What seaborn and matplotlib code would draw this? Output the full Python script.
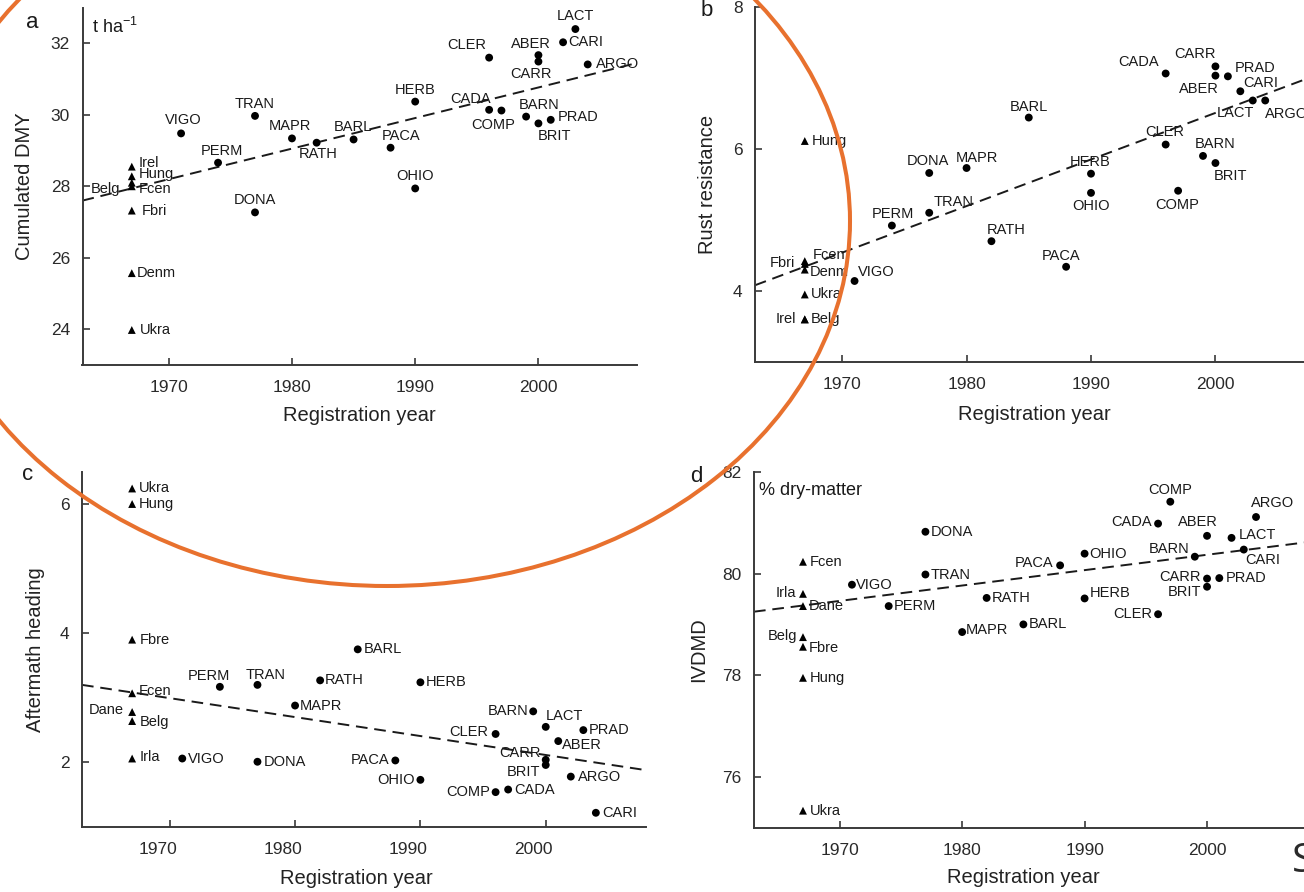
import pandas as pd
import matplotlib
matplotlib.use("Agg")
import matplotlib.pyplot as plt
import matplotlib.transforms as mtransforms
from matplotlib.patches import Ellipse
import seaborn as sns

# ---- Data ----
LANDRACE_YEAR = 1967
TREND_YEARS = [1963, 2008]

# a: cumulated DMY
a_land_names = ["Irel", "Hung", "Fcen", "Belg", "Fbri", "Denm", "Ukra"]
a_land_values = [28.55, 28.28, 28.10, 28.00, 27.32, 25.57, 23.98]
a_var_names = ["VIGO", "PERM", "TRAN", "DONA", "MAPR", "RATH", "BARL", "PACA", "HERB", "OHIO",
               "CLER", "CADA", "COMP", "BARN", "ABER", "CARR", "BRIT", "PRAD", "CARI", "LACT", "ARGO"]
a_var_years = [1971, 1974, 1977, 1977, 1980, 1982, 1985, 1988, 1990, 1990,
               1996, 1996, 1997, 1999, 2000, 2000, 2000, 2001, 2002, 2003, 2004]
a_var_values = [29.48, 28.66, 29.97, 27.27, 29.34, 29.22, 29.31, 29.08, 30.37, 27.94,
                31.60, 30.14, 30.12, 29.95, 31.67, 31.49, 29.76, 29.86, 32.03, 32.40, 31.41]
a_trend = [27.6, 31.45]

# b: rust resistance
b_land_names = ["Hung", "Fcen", "Fbri", "Denm", "Ukra", "Belg", "Irel"]
b_land_values = [6.11, 4.42, 4.38, 4.30, 3.95, 3.60, 3.60]
b_var_names = ["VIGO", "PERM", "TRAN", "DONA", "MAPR", "RATH", "BARL", "PACA", "HERB", "OHIO",
               "CLER", "CADA", "COMP", "BARN", "CARR", "ABER", "BRIT", "PRAD", "CARI", "LACT", "ARGO"]
b_var_years = [1971, 1974, 1977, 1977, 1980, 1982, 1985, 1988, 1990, 1990,
               1996, 1996, 1997, 1999, 2000, 2000, 2000, 2001, 2002, 2003, 2004]
b_var_values = [4.14, 4.92, 5.10, 5.66, 5.73, 4.70, 6.44, 4.34, 5.65, 5.38,
                6.06, 7.06, 5.41, 5.90, 7.16, 7.03, 5.80, 7.02, 6.81, 6.68, 6.68]
b_trend = [4.08, 7.03]

# c: aftermath heading
c_land_names = ["Ukra", "Hung", "Fbre", "Fcen", "Dane", "Belg", "Irla"]
c_land_values = [6.24, 6.00, 3.90, 3.07, 2.78, 2.64, 2.06]
c_var_names = ["VIGO", "PERM", "TRAN", "DONA", "MAPR", "RATH", "BARL", "PACA", "HERB", "OHIO",
               "CLER", "COMP", "CADA", "BARN", "LACT", "CARR", "BRIT", "ABER", "ARGO", "PRAD", "CARI"]
c_var_years = [1971, 1974, 1977, 1977, 1980, 1982, 1985, 1988, 1990, 1990,
               1996, 1996, 1997, 1999, 2000, 2000, 2000, 2001, 2002, 2003, 2004]
c_var_values = [2.06, 3.17, 3.20, 2.01, 2.88, 3.27, 3.75, 2.03, 3.24, 1.73,
                2.44, 1.54, 1.58, 2.79, 2.55, 2.04, 1.96, 2.33, 1.78, 2.50, 1.22]
c_trend = [3.2, 1.88]

# d: IVDMD
d_land_names = ["Fcen", "Irla", "Dane", "Belg", "Fbre", "Hung", "Ukra"]
d_land_values = [80.23, 79.60, 79.36, 78.75, 78.56, 77.95, 75.34]
d_var_names = ["VIGO", "PERM", "DONA", "TRAN", "MAPR", "RATH", "BARL", "PACA", "OHIO", "HERB",
               "CLER", "CADA", "COMP", "BARN", "ABER", "CARR", "BRIT", "PRAD", "LACT", "CARI", "ARGO"]
d_var_years = [1971, 1974, 1977, 1977, 1980, 1982, 1985, 1988, 1990, 1990,
               1996, 1996, 1997, 1999, 2000, 2000, 2000, 2001, 2002, 2003, 2004]
d_var_values = [79.78, 79.36, 80.82, 79.98, 78.85, 79.52, 79.00, 80.16, 80.39, 79.51,
                79.20, 80.98, 81.41, 80.33, 80.74, 79.90, 79.74, 79.91, 80.70, 80.47, 81.11]
d_trend = [79.25, 80.61]

# ---- Label placement (pixel offsets from the point, alignment) ----
L, C, R = "left", "center", "right"
a_labels = {
    "Irel": (7, 4, L), "Hung": (7, 2, L), "Fcen": (7, -6, L), "Belg": (-12, -3, R),
    "Fbri": (10, 0, L), "Denm": (5, 0, L), "Ukra": (8, 0, L),
    "VIGO": (2, 13, C), "PERM": (4, 12, C), "TRAN": (0, 12, C), "DONA": (0, 12, C),
    "MAPR": (-2, 12, C), "RATH": (2, -11, C), "BARL": (-1, 12, C), "PACA": (11, 12, C),
    "HERB": (0, 12, C), "OHIO": (0, 12, C), "CLER": (-22, 13, C), "CADA": (-19, 11, C),
    "COMP": (-8, -14, C), "BARN": (13, 12, C), "ABER": (-8, 11, C), "CARR": (-7, -12, C),
    "BRIT": (16, -13, C), "PRAD": (7, 3, L), "CARI": (5, 0, L), "LACT": (0, 13, C),
    "ARGO": (8, 0, L),
}
b_labels = {
    "Hung": (7, 0, L), "Fcen": (8, 6, L), "Fbri": (-10, 1, R), "Denm": (5, -2, L),
    "Ukra": (6, 0, L), "Belg": (6, 0, L), "Irel": (-9, 0, R),
    "VIGO": (3, 9, L), "PERM": (1, 12, C), "TRAN": (4, 11, L), "DONA": (-1, 12, C),
    "MAPR": (10, 10, C), "RATH": (15, 11, C), "BARL": (0, 11, C), "PACA": (-5, 11, C),
    "HERB": (-1, 12, C), "OHIO": (0, -13, C), "CLER": (-1, 13, C), "CADA": (-27, 11, C),
    "COMP": (-1, -14, C), "BARN": (12, 12, C), "CARR": (-20, 12, C), "ABER": (-17, -13, C),
    "BRIT": (15, -13, C), "PRAD": (7, 8, L), "CARI": (3, 8, L), "LACT": (-17, -13, C),
    "ARGO": (0, -14, L),
}
c_labels = {
    "Ukra": (7, 0, L), "Hung": (7, 0, L), "Fbre": (8, 0, L), "Fcen": (7, 2, L),
    "Dane": (-8, 2, R), "Belg": (8, -1, L), "Irla": (7, 2, L),
    "VIGO": (6, 0, L), "PERM": (-11, 11, C), "TRAN": (8, 10, C), "DONA": (6, 0, L),
    "MAPR": (5, 0, L), "RATH": (5, 0, L), "BARL": (6, 0, L), "PACA": (-6, 0, R),
    "HERB": (5, 0, L), "OHIO": (-6, 0, R), "CLER": (-7, 2, R), "COMP": (-5, 0, R),
    "CADA": (6, 0, L), "BARN": (-5, 0, R), "LACT": (0, 11, L), "CARR": (-5, 7, R),
    "BRIT": (-5, -7, R), "ABER": (4, -4, L), "ARGO": (7, 0, L), "PRAD": (5, 0, L),
    "CARI": (6, 0, L),
}
d_labels = {
    "Fcen": (7, 0, L), "Irla": (-7, 1, R), "Dane": (6, 0, L), "Belg": (-6, 1, R),
    "Fbre": (6, -1, L), "Hung": (7, 0, L), "Ukra": (7, 0, L),
    "VIGO": (4, 0, L), "PERM": (5, 0, L), "DONA": (5, 0, L), "TRAN": (5, 0, L),
    "MAPR": (4, 2, L), "RATH": (5, 0, L), "BARL": (5, 0, L), "PACA": (-7, 2, R),
    "OHIO": (5, 0, L), "HERB": (5, 5, L), "CLER": (-6, 0, R), "CADA": (-6, 2, R),
    "COMP": (0, 12, C), "BARN": (-5, 8, R), "ABER": (-9, 14, C), "CARR": (-6, 2, R),
    "BRIT": (-6, -5, R), "PRAD": (6, 0, L), "LACT": (7, 3, L), "CARI": (1, -10, L),
    "ARGO": (-5, 14, L),
}

# ---- Style ----
sns.set_style("ticks")
plt.rcParams["font.family"] = ["Liberation Sans", "DejaVu Sans"]
plt.rcParams["mathtext.fontset"] = "custom"
plt.rcParams["mathtext.rm"] = "Liberation Sans"
INK = "#1a1a1a"
AXC = "#3a3a3a"

W, H = 1304, 892
fig = plt.figure(figsize=(W / 100, H / 100), dpi=100)


def px_axes(left, top, right, bottom):
    # axes box given in image pixels
    return fig.add_axes([left / W, 1 - bottom / H, (right - left) / W, (bottom - top) / H])


def draw_panel(ax, land_names, land_values, var_names, var_years, var_values,
               trend, labels, ylim, yticks, ylabel, ylabel_x, xlabel_x, xlabel_y):
    df = pd.DataFrame({
        "year": [LANDRACE_YEAR] * len(land_names) + list(var_years),
        "value": list(land_values) + list(var_values),
        "name": list(land_names) + list(var_names),
        "kind": ["landrace"] * len(land_names) + ["variety"] * len(var_names),
    })
    ax.plot(TREND_YEARS, trend, color=INK, lw=1.4, ls=(0, (6, 3.5)), zorder=2)
    sns.scatterplot(data=df, x="year", y="value", style="kind",
                    markers={"landrace": "^", "variety": "o"},
                    color="black", s=32, edgecolor="none", legend=False, ax=ax, zorder=3)
    for _, row in df.iterrows():
        dx, dy, ha = labels[row["name"]]
        ax.annotate(row["name"], (row["year"], row["value"]), xytext=(dx, dy),
                    textcoords="offset pixels", ha=ha, va="center",
                    fontsize=10.5, color=INK, zorder=4)
    ax.set_xlim(1963, 2008)
    ax.set_ylim(*ylim)
    ax.set_xticks([1970, 1980, 1990, 2000])
    ax.set_yticks(yticks)
    sns.despine(ax=ax)
    for side in ["left", "bottom"]:
        ax.spines[side].set_color(AXC)
        ax.spines[side].set_linewidth(1.4)
    ax.tick_params(direction="in", length=5, width=1.2, color=AXC,
                   labelsize=12.5, labelcolor="#2a2a2a")
    ax.tick_params(axis="x", pad=11)
    ax.tick_params(axis="y", pad=9)
    ax.set_xlabel("Registration year", fontsize=14.5, color="#222222", va="center")
    ax.set_ylabel(ylabel, fontsize=14.5, color="#222222", va="center")
    ax.xaxis.set_label_coords(xlabel_x, xlabel_y)
    ax.yaxis.set_label_coords(ylabel_x, 0.5)
    ax.grid(False)


ax_a = px_axes(82.5, 7.6, 637, 365)
ax_b = px_axes(755, 6.7, 1315, 362)
ax_c = px_axes(82, 471.7, 646, 827)
ax_d = px_axes(754, 471.7, 1305, 828)

draw_panel(ax_a, a_land_names, a_land_values, a_var_names, a_var_years, a_var_values,
           a_trend, a_labels, (23, 33), [24, 26, 28, 30, 32], "Cumulated DMY",
           -0.104, 0.499, -0.14)
draw_panel(ax_b, b_land_names, b_land_values, b_var_names, b_var_years, b_var_values,
           b_trend, b_labels, (3, 8), [4, 6, 8], "Rust resistance",
           -0.084, 0.498, -0.149)
draw_panel(ax_c, c_land_names, c_land_values, c_var_names, c_var_years, c_var_values,
           c_trend, c_labels, (1, 6.5), [2, 4, 6], "Aftermath heading",
           -0.083, 0.486, -0.144)
draw_panel(ax_d, d_land_names, d_land_values, d_var_names, d_var_years, d_var_values,
           d_trend, d_labels, (75, 82), [76, 78, 80, 82], "IVDMD",
           -0.10, 0.488, -0.14)

# panel c year labels sit a little left of their ticks in the original
shift = mtransforms.ScaledTranslation(-12 / 100, 0, fig.dpi_scale_trans)
for lbl in ax_c.get_xticklabels():
    lbl.set_transform(lbl.get_transform() + shift)

# panel letters and units
for letter, x, y in [("a", 32, 28), ("b", 707, 16), ("c", 28, 480), ("d", 696, 482)]:
    fig.text(x / W, 1 - y / H, letter, fontsize=16, ha="center", va="baseline", color=INK)
fig.text(92 / W, 1 - 33 / H, r"t ha$^{\mathregular{-1}}$", fontsize=13, va="baseline", color=INK)
fig.text(759 / W, 1 - 495 / H, "% dry-matter", fontsize=13, va="baseline", color=INK)

# orange highlight ring drawn over the figure
fig.add_artist(Ellipse((387 / W, 1 - 221 / H), 926 / W, 730 / H, transform=fig.transFigure,
                       fill=False, edgecolor="#E8712E", linewidth=2.9, zorder=10))

# cut-off letter at the bottom right edge
fig.text(1292 / W, 1 - 872 / H, "S", fontsize=29, family=["Open Sans", "DejaVu Sans"],
         color="#2a2a2a", va="baseline", ha="left")

fig.savefig("out.png", dpi=100)
